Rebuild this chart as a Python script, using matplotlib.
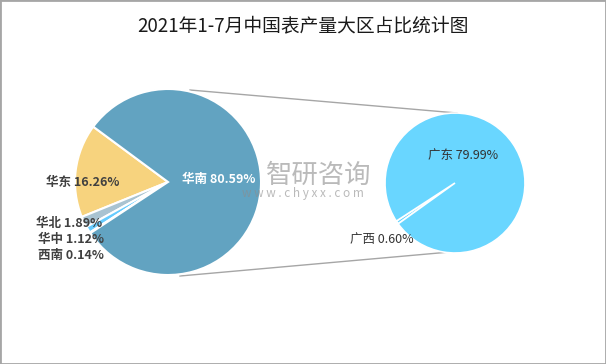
import matplotlib.pyplot as plt
from matplotlib.patches import Rectangle

plt.rcParams['font.family'] = ['Noto Sans CJK SC', 'DejaVu Sans']

title = '2021年1-7月中国表产量大区占比统计图'
main_labels = ['华东', '华北', '华中', '西南', '华南']
main_values = [16.26, 1.89, 1.12, 0.14, 80.59]
sub_labels = ['广西', '广东']
sub_values = [0.60, 79.99]

W, H = 606, 364
MAIN_COLORS = ['#F7D37E', '#A9C3D1', '#66CCFF', '#4F81BD', '#62A3C1']
SUB_COLOR = '#69D6FF'


def py(y):
    # pixel row (top down) -> data y (bottom up)
    return H - y


fig = plt.figure(figsize=(W / 100, H / 100), dpi=100)
ax = fig.add_axes([0, 0, 1, 1])
ax.set_xlim(0, W)
ax.set_ylim(0, H)
ax.set_aspect('equal')
ax.axis('off')

main_c, main_r = (168, py(182)), 93
sub_c, sub_r = (455, py(183)), 70

# connector lines
ax.plot([190, 457], [py(90), py(113)], color='#A6A6A6', lw=1, zorder=1)
ax.plot([180, 450], [py(276), py(252)], color='#A6A6A6', lw=1, zorder=1)

ax.pie(main_values, colors=MAIN_COLORS, startangle=143.5, counterclock=True,
       center=main_c, radius=main_r, frame=True,
       wedgeprops=dict(edgecolor='white', linewidth=1.5))
ax.pie(sub_values, colors=[SUB_COLOR, SUB_COLOR], startangle=213, counterclock=True,
       center=sub_c, radius=sub_r, frame=True,
       wedgeprops=dict(edgecolor='white', linewidth=1.2))
ax.set_xlim(0, W)
ax.set_ylim(0, H)
ax.axis('off')

# data labels
lab_pos = {'华东': (83, 182), '华北': (69, 224), '华中': (71, 240), '西南': (71, 256),
           '华南': (219, 180)}
for name, val in zip(main_labels, main_values):
    x, y = lab_pos[name]
    col = 'white' if name == '华南' else '#404040'
    ax.text(x, py(y), f'{name} {val:.2f}%', ha='center', va='center',
            fontsize=9, fontweight='bold', color=col, zorder=5)

sub_pos = {'广东': (463, 155), '广西': (382, 240)}
for name, val in zip(sub_labels, sub_values):
    x, y = sub_pos[name]
    ax.text(x, py(y), f'{name} {val:.2f}%', ha='center', va='center',
            fontsize=9, color='#333333', zorder=5)

# watermark
ax.text(319, py(175), '智研咨询', ha='center', va='center', fontsize=19,
        color='#8C8C8C', alpha=0.6, zorder=6)
ax.text(303, py(194), 'w w w . c h y x x . c o m', ha='center', va='center',
        fontsize=8.5, color='#8C8C8C', alpha=0.6, zorder=6)

ax.text(W / 2, py(26), title, ha='center', va='center', fontsize=13.5,
        color='#1A1A1A')

fig.patches.append(Rectangle((0, 0), 1, 1, transform=fig.transFigure,
                             fill=False, edgecolor='#A6A6A6', lw=2))

fig.savefig('out.png', dpi=100)
